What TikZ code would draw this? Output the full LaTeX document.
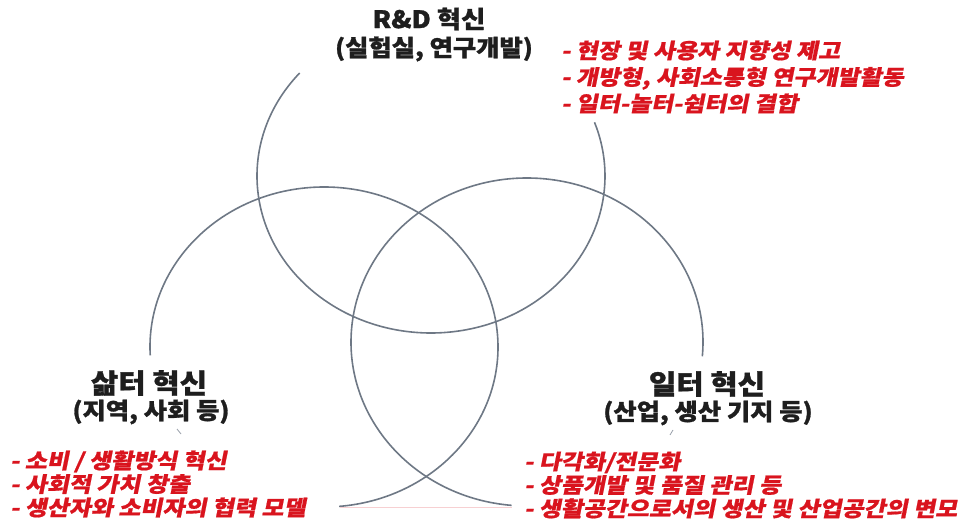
\documentclass[tikz,border=0pt]{standalone}
\usepackage{fontspec}
\usepackage{xcolor}
\usepackage{tikz}
\usetikzlibrary{positioning}
\newfontfamily\krfont{Noto Sans CJK KR}[FakeStretch=1.1, FakeBold=1.2]
\newfontfamily\krslant{Noto Sans CJK KR}[FakeSlant=0.2, FakeStretch=1.14, FakeBold=0.8]
\definecolor{ringgray}{HTML}{6E7885}
\definecolor{headtext}{HTML}{1E1E1E}
\definecolor{pointred}{HTML}{D9141E}

\begin{document}
\begin{tikzpicture}[
  x=1pt, y=-1pt,
  head/.style={font=\krfont\bfseries\fontsize{27}{30}\selectfont, text=headtext, inner sep=0pt},
  sub/.style={font=\krfont\bfseries\fontsize{23}{26}\selectfont, text=headtext, inner sep=0pt},
  points/.style={font=\krslant\bfseries\fontsize{21}{23.5}\selectfont, text=pointred,
                 align=left, inner sep=0pt, anchor=west},
  ring/.style={draw=ringgray, line width=1.6pt},
  tick/.style={draw=ringgray!70, line width=0.8pt}
]
\useasboundingbox (0,0) rectangle (964,526);
\coordinate (ctop) at (431,176);
\coordinate (cleft) at (324,347);
\coordinate (cright) at (527,342);
\draw[ring] ([shift={(221:174 and 157)}]ctop) arc[start angle=221, end angle=-20, x radius=174, y radius=157];
\draw[ring] ([shift={(177:174 and 160)}]cleft) arc[start angle=177, end angle=445, x radius=174, y radius=160];
\draw[ring] ([shift={(5:176 and 164)}]cright) arc[start angle=5, end angle=-265, x radius=176, y radius=164];
\draw[draw=pointred!20, line width=0.6pt] (340,507) -- (512,507);

\node[head, font=\krfont\bfseries\fontsize{24}{28}\selectfont] (rd) at (429,19) {R\&D 혁신};
\node[sub] (rdsub) at (434,49) {(실험실, 연구개발)};
\node[points, font=\krslant\bfseries\fontsize{21}{26.5}\selectfont] (rdlist) at (561,77)
     {- 현장 및 사용자 지향성 제고\\- 개방형, 사회소통형 연구개발활동\\- 일터-놀터-쉼터의 결합};

\node[head] (st) at (149,383) {삶터 혁신};
\node[sub] (stsub) at (151,412) {(지역, 사회 등)};
\node[points] (stlist) at (10,484)
     {- 소비 / 생활방식 혁신\\- 사회적 가치 창출\\- 생산자와 소비자의 협력 모델};
\draw[tick] (177,429) -- (181,434);

\node[head] (it) at (707,384) {일터 혁신};
\node[sub] (itsub) at (708,413) {(산업, 생산 기지 등)};
\node[points] (itlist) at (524,485)
     {- 다각화/전문화\\- 상품개발 및 품질 관리 등\\- 생활공간으로서의 생산 및 산업공간의 변모};
\draw[tick] (673,430) -- (670,435);
\end{tikzpicture}
\end{document}
